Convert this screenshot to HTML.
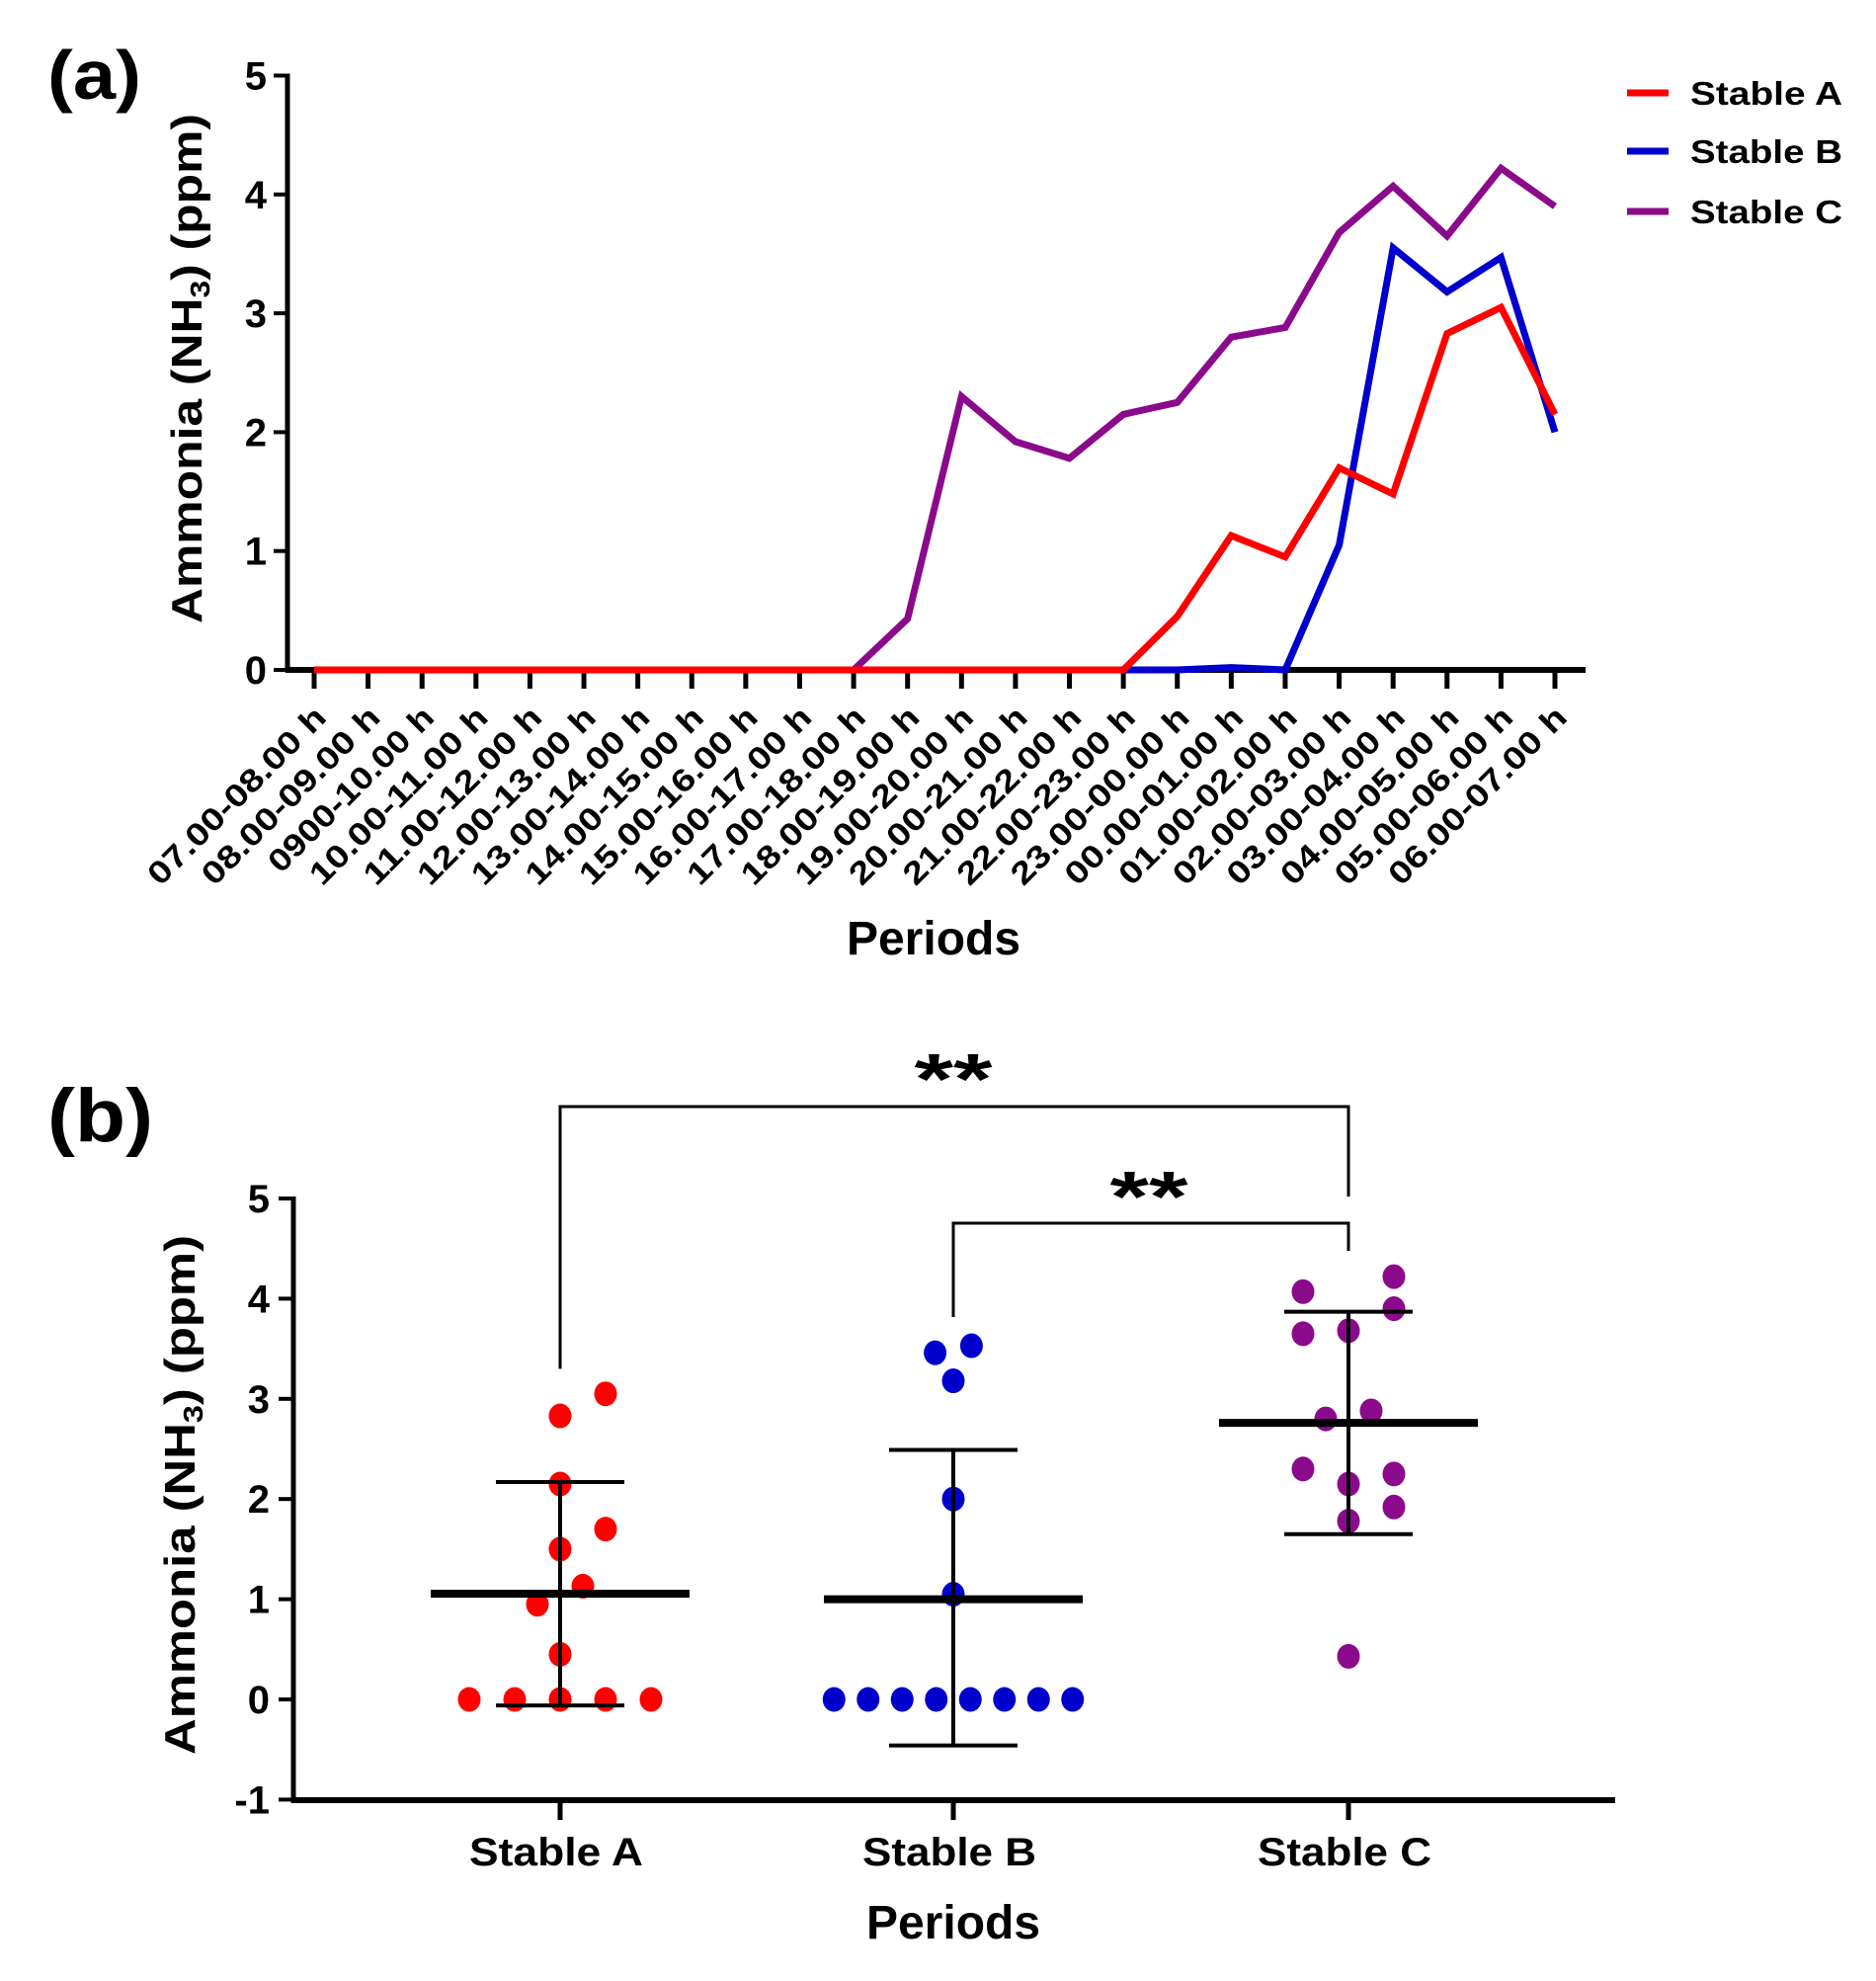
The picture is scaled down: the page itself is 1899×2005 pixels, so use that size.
<!DOCTYPE html>
<html><head><meta charset="utf-8">
<style>
html,body{margin:0;padding:0;background:#fff;}
svg{display:block;font-family:"Liberation Sans",Arial,sans-serif;font-weight:bold;}
</style></head>
<body>
<svg id="fig" width="1899" height="2005" viewBox="0 0 1899 2005" xmlns="http://www.w3.org/2000/svg">
<rect width="1899" height="2005" fill="#fff"/>
<g id="pa"></g>
<g id="pb"></g>
</svg>
<script>
// ---------- Panel A data ----------
const periods = ["07.00-08.00 h","08.00-09.00 h","0900-10.00 h","10.00-11.00 h","11.00-12.00 h","12.00-13.00 h","13.00-14.00 h","14.00-15.00 h","15.00-16.00 h","16.00-17.00 h","17.00-18.00 h","18.00-19.00 h","19.00-20.00 h","20.00-21.00 h","21.00-22.00 h","22.00-23.00 h","23.00-00.00 h","00.00-01.00 h","01.00-02.00 h","02.00-03.00 h","03.00-04.00 h","04.00-05.00 h","05.00-06.00 h","06.00-07.00 h"];
const stableA = [0,0,0,0,0,0,0,0,0,0,0,0,0,0,0,0,0.45,1.13,0.95,1.7,1.48,2.83,3.05,2.15];
const stableB = [0,0,0,0,0,0,0,0,0,0,0,0,0,0,0,0,0,0.02,0,1.05,3.55,3.18,3.47,2.0];
const stableC = [0,0,0,0,0,0,0,0,0,0,0,0.43,2.3,1.92,1.78,2.15,2.25,2.8,2.88,3.68,4.07,3.65,4.22,3.9];
const yTicksA = [0,1,2,3,4,5];
const seriesNames = ["Stable A","Stable B","Stable C"];

// ---------- Panel B data ----------
const groups = ["Stable A","Stable B","Stable C"];
const ptsA = [0,0,0,0,0,0.95,0.45,1.13,1.5,1.7,2.15,2.83,3.05];
const jitA = [-2,-1,0,1,2,-0.5,0,0.5,0,1,0,0,1];
const ptsB = [0,0,0,0,0,0,0,0,1.05,2.0,3.18,3.46,3.53];
const jitB = [-2.625,-1.875,-1.125,-0.375,0.375,1.125,1.875,2.625,0,0,0,-0.4,0.4];
const ptsC = [0.43,1.78,1.92,2.15,2.3,2.25,2.8,2.88,3.65,3.68,3.9,4.07,4.22];
const jitC = [0,0,1,0,-1,1,-0.5,0.5,-1,0,1,-1,1];
const means = [1.055,1.0,2.76];
const sdUpper = [2.17,2.49,3.87];
const sdLower = [-0.06,-0.46,1.65];
const yTicksB = [-1,0,1,2,3,4,5];

const NS="http://www.w3.org/2000/svg";
function mk(parent,tag,attrs,text){const e=document.createElementNS(NS,tag);for(const k in attrs)e.setAttribute(k,attrs[k]);if(text!==undefined)e.textContent=text;parent.appendChild(e);return e;}
const colors=["#ff0000","#0000cc","#8b0a8b"];

// ===== Panel A =====
const pa=document.getElementById('pa');
const ax0=291, ay0=678, ay5=76.5, xFirst=318, xLast=1574, axEnd=1605;
const yA=v=>ay0-(ay0-ay5)*v/5;
const xA=i=>xFirst+(xLast-xFirst)*i/(periods.length-1);

let t=mk(pa,'text',{x:48,y:100,'font-size':70,textLength:95,lengthAdjust:'spacingAndGlyphs'},'(a)');



let l=mk(pa,'line',{x1:ax0,y1:ay5-2,x2:ax0,y2:ay0+2,stroke:'#000','stroke-width':5});


yTicksA.forEach(v=>{
  const tk=mk(pa,'line',{x1:ax0-14,y1:yA(v),x2:ax0,y2:yA(v),stroke:'#000','stroke-width':4});
  
  
  const tl=mk(pa,'text',{x:270,y:yA(v)+14,'font-size':40,'text-anchor':'end'},String(v));
  
  
});
let yt=mk(pa,'text',{x:0,y:0,'font-size':44,'text-anchor':'middle',transform:'translate(204,373) rotate(-90)',textLength:516,lengthAdjust:'spacingAndGlyphs'});


yt.innerHTML='Ammonia (NH<tspan font-size="28" dy="8">3</tspan><tspan dy="-8">) (ppm)</tspan>';

l=mk(pa,'line',{x1:ax0-2,y1:ay0,x2:axEnd,y2:ay0,stroke:'#000','stroke-width':6});


periods.forEach((p,i)=>{
  const tk=mk(pa,'line',{x1:xA(i),y1:ay0,x2:xA(i),y2:ay0+19,stroke:'#000','stroke-width':5});
  
  
  const tl=mk(pa,'text',{x:0,y:0,'font-size':32,'text-anchor':'end',textLength:Math.round(240*p.length/13),lengthAdjust:'spacingAndGlyphs',transform:`translate(${xA(i)+14},${ay0+50}) rotate(-45)`},p);
  
  
});
t=mk(pa,'text',{x:945,y:966,'font-size':48,'text-anchor':'middle'},'Periods');



[[stableC,2],[stableB,1],[stableA,0]].forEach(([arr,ci])=>{
  const pts=arr.map((v,i)=>xA(i).toFixed(1)+','+yA(v).toFixed(1)).join(' ');
  const pl=mk(pa,'polyline',{points:pts,fill:'none',stroke:colors[ci],'stroke-width':7,'stroke-linejoin':'miter'});
  
  
});

const legY=[94,153,214];
seriesNames.forEach((n,i)=>{
  const g=mk(pa,'g',{});
  
  
  mk(g,'line',{x1:1647,y1:legY[i],x2:1689,y2:legY[i],stroke:colors[i],'stroke-width':7});
  mk(g,'text',{x:1711,y:legY[i]+12,'font-size':33,textLength:154,lengthAdjust:'spacingAndGlyphs'},n);
});

// ===== Panel B =====
const pb=document.getElementById('pb');
const bx0=297, by0=1720, by5=1213, byM1=1822, bxEnd=1635;
const gx=[567,965,1365];
const yB=v=>by0-(by0-by5)*v/5;
const unit=46;

t=mk(pb,'text',{x:48,y:1155,'font-size':76,textLength:107,lengthAdjust:'spacingAndGlyphs'},'(b)');



l=mk(pb,'line',{x1:bx0,y1:by5-2,x2:bx0,y2:byM1+3,stroke:'#000','stroke-width':5});


yTicksB.forEach(v=>{
  const tk=mk(pb,'line',{x1:bx0-15,y1:yB(v),x2:bx0,y2:yB(v),stroke:'#000','stroke-width':4});
  
  
  const tl=mk(pb,'text',{x:273,y:yB(v)+14,'font-size':40,'text-anchor':'end'},String(v));
  
  
});
yt=mk(pb,'text',{x:0,y:0,'font-size':44,'text-anchor':'middle',transform:'translate(197,1513) rotate(-90)',textLength:526,lengthAdjust:'spacingAndGlyphs'});


yt.innerHTML='Ammonia (NH<tspan font-size="28" dy="8">3</tspan><tspan dy="-8">) (ppm)</tspan>';

l=mk(pb,'line',{x1:bx0-2,y1:byM1,x2:bxEnd,y2:byM1,stroke:'#000','stroke-width':6});


groups.forEach((g,i)=>{
  const tk=mk(pb,'line',{x1:gx[i],y1:byM1,x2:gx[i],y2:byM1+20,stroke:'#000','stroke-width':5});
  
  
  const tl=mk(pb,'text',{x:gx[i]-4,y:1888,'font-size':40,'text-anchor':'middle',textLength:176,lengthAdjust:'spacingAndGlyphs'},g);
  
  
});
t=mk(pb,'text',{x:965,y:1962,'font-size':48,'text-anchor':'middle'},'Periods');



let br=mk(pb,'polyline',{points:`${gx[0]},${yB(3.3)} ${gx[0]},1120 ${gx[2]},1120 ${gx[2]},1211`,fill:'none',stroke:'#000','stroke-width':3});


br=mk(pb,'polyline',{points:`${gx[1]},1333 ${gx[1]},1238 ${gx[2]},1238 ${gx[2]},1266`,fill:'none',stroke:'#000','stroke-width':3});


t=mk(pb,'text',{x:965,y:1117,'font-size':72,'text-anchor':'middle',textLength:79,lengthAdjust:'spacingAndGlyphs'},'**');


t=mk(pb,'text',{x:1163,y:1236,'font-size':72,'text-anchor':'middle',textLength:79,lengthAdjust:'spacingAndGlyphs'},'**');



[[ptsA,jitA],[ptsB,jitB],[ptsC,jitC]].forEach(([pts,jit],gi)=>{
  pts.forEach((v,k)=>{
    const c=mk(pb,'ellipse',{cx:gx[gi]+jit[k]*unit,cy:yB(v),rx:11.5,ry:12.5,fill:colors[gi]});
    
    
  });
});
groups.forEach((g,i)=>{
  const e=mk(pb,'line',{x1:gx[i],y1:yB(sdUpper[i]),x2:gx[i],y2:yB(sdLower[i]),stroke:'#000','stroke-width':4});
  
  
  [sdUpper[i],sdLower[i]].forEach(v=>{
    const cap=mk(pb,'line',{x1:gx[i]-65,y1:yB(v),x2:gx[i]+65,y2:yB(v),stroke:'#000','stroke-width':4});
    
    
  });
  const m=mk(pb,'line',{x1:gx[i]-131,y1:yB(means[i]),x2:gx[i]+131,y2:yB(means[i]),stroke:'#000','stroke-width':8});
  
  
});
</script>
</body></html>
